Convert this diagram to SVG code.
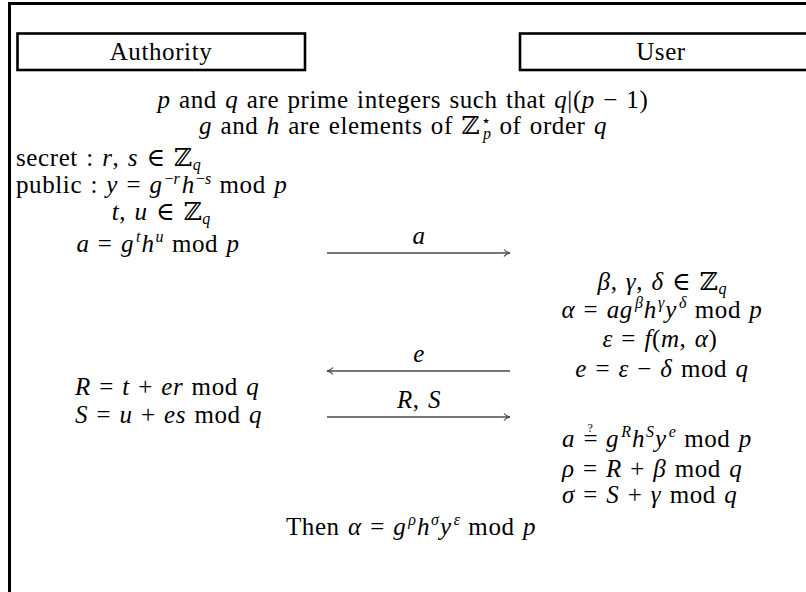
<svg xmlns="http://www.w3.org/2000/svg" width="806" height="592" viewBox="0 0 806 592">
<defs>
<style>
.t{font-family:"Liberation Serif","DejaVu Serif",serif;font-size:25px;letter-spacing:0.6px;word-spacing:1.5px;fill:#000}
.c{text-anchor:middle}
.i{font-style:italic}
.s{font-size:16px;letter-spacing:0}
.box{fill:none;stroke:#000;stroke-width:2.6}
.arr{fill:none;stroke:#4a4a4a;stroke-width:1.5;marker-end:url(#head)}
</style>
<marker id="head" viewBox="0 0 10 10" refX="9" refY="5" markerWidth="10" markerHeight="10" markerUnits="userSpaceOnUse" orient="auto">
<path d="M3,1.5 Q5,4.2 9,5 Q5,5.8 3,8.5" fill="none" stroke="#444" stroke-width="1.1"/>
</marker>
</defs>
<rect width="806" height="592" fill="#fff"/>
<path d="M9.5,592 V3.5 H806" fill="none" stroke="#000" stroke-width="3"/>
<g id="authority">
<rect class="box" x="17.5" y="33.5" width="287.5" height="36.5"/>
<text class="t c" x="161" y="60">Authority</text>
</g>
<g id="user">
<rect class="box" x="520" y="33.5" width="300" height="36.5"/>
<text class="t c" x="661" y="60">User</text>
</g>
<g id="setup">
<text class="t c" x="403" y="108"><tspan class="i">p</tspan> and <tspan class="i">q</tspan> are prime integers such that <tspan class="i">q</tspan>|(<tspan class="i">p</tspan> − 1)</text>
<text class="t c" x="403" y="134"><tspan class="i">g</tspan> and <tspan class="i">h</tspan> are elements of ℤ<tspan class="s" dx="1" dy="-8">⋆</tspan><tspan class="i s" dx="-8" dy="13">p</tspan><tspan dy="-5"> of order </tspan><tspan class="i">q</tspan></text>
</g>
<g id="authority-steps">
<text class="t" x="16" y="166">secret : <tspan class="i">r</tspan>, <tspan class="i">s</tspan> ∈ ℤ<tspan class="i s" dy="4">q</tspan></text>
<text class="t" x="16" y="193">public : <tspan class="i">y</tspan> = <tspan class="i">g</tspan><tspan class="s" dx="2" dy="-9">−<tspan class="i">r</tspan></tspan><tspan class="i" dx="2" dy="9">h</tspan><tspan class="s" dx="1" dy="-9">−<tspan class="i">s</tspan></tspan><tspan dy="9"> mod </tspan><tspan class="i">p</tspan></text>
<text class="t c" x="161" y="220"><tspan class="i">t</tspan>, <tspan class="i">u</tspan> ∈ ℤ<tspan class="i s" dy="4">q</tspan></text>
<text class="t c" x="158" y="252"><tspan class="i">a</tspan> = <tspan class="i">g</tspan><tspan class="i s" dx="2" dy="-10">t</tspan><tspan class="i" dx="1" dy="10">h</tspan><tspan class="i s" dx="1" dy="-10">u</tspan><tspan dy="10"> mod </tspan><tspan class="i">p</tspan></text>
<text class="t" x="75" y="395"><tspan class="i">R</tspan> = <tspan class="i">t</tspan> + <tspan class="i">er</tspan> mod <tspan class="i">q</tspan></text>
<text class="t" x="75" y="423"><tspan class="i">S</tspan> = <tspan class="i">u</tspan> + <tspan class="i">es</tspan> mod <tspan class="i">q</tspan></text>
</g>
<g id="user-steps">
<text class="t c" x="662" y="290"><tspan class="i">β</tspan>, <tspan class="i">γ</tspan>, <tspan class="i">δ</tspan> ∈ ℤ<tspan class="i s" dy="4">q</tspan></text>
<text class="t c" x="662" y="318"><tspan class="i">α</tspan> = <tspan class="i">ag</tspan><tspan class="i s" dx="2" dy="-10">β</tspan><tspan class="i" dx="1" dy="10">h</tspan><tspan class="i s" dx="1" dy="-10">γ</tspan><tspan class="i" dx="1" dy="10">y</tspan><tspan class="i s" dx="2" dy="-10">δ</tspan><tspan dy="10"> mod </tspan><tspan class="i">p</tspan></text>
<text class="t c" x="660" y="347"><tspan class="i">ε</tspan> = <tspan class="i">f</tspan>(<tspan class="i">m</tspan>, <tspan class="i">α</tspan>)</text>
<text class="t c" x="662" y="377"><tspan class="i">e</tspan> = <tspan class="i">ε</tspan> − <tspan class="i">δ</tspan> mod <tspan class="i">q</tspan></text>
<text class="t" x="562" y="447"><tspan class="i">a</tspan> =<tspan style="font-size:12px;letter-spacing:0" dx="-10.6" dy="-15">?</tspan><tspan dx="4.8" dy="15"> </tspan><tspan class="i">g</tspan><tspan class="i s" dx="2" dy="-10">R</tspan><tspan class="i" dx="1" dy="10">h</tspan><tspan class="i s" dx="1" dy="-10">S</tspan><tspan class="i" dx="1" dy="10">y</tspan><tspan class="i s" dx="2" dy="-10">e</tspan><tspan dy="10"> mod </tspan><tspan class="i">p</tspan></text>
<text class="t" x="562" y="477"><tspan class="i">ρ</tspan> = <tspan class="i">R</tspan> + <tspan class="i">β</tspan> mod <tspan class="i">q</tspan></text>
<text class="t" x="562" y="503"><tspan class="i">σ</tspan> = <tspan class="i">S</tspan> + <tspan class="i">γ</tspan> mod <tspan class="i">q</tspan></text>
</g>
<g id="conclusion">
<text class="t c" x="411" y="535">Then <tspan class="i">α</tspan> = <tspan class="i">g</tspan><tspan class="i s" dx="2" dy="-10">ρ</tspan><tspan class="i" dx="1" dy="10">h</tspan><tspan class="i s" dx="1" dy="-10">σ</tspan><tspan class="i" dx="1" dy="10">y</tspan><tspan class="i s" dx="2" dy="-10">ε</tspan><tspan dy="10"> mod </tspan><tspan class="i">p</tspan></text>
</g>
<g id="connectors">
<path class="arr" d="M327,253 H510"/>
<text class="t c i" x="419" y="244">a</text>
<path class="arr" d="M510,371 H327"/>
<text class="t c i" x="419" y="362">e</text>
<path class="arr" d="M327,417 H510"/>
<text class="t c" x="419" y="408"><tspan class="i">R</tspan>, <tspan class="i">S</tspan></text>
</g>
</svg>
